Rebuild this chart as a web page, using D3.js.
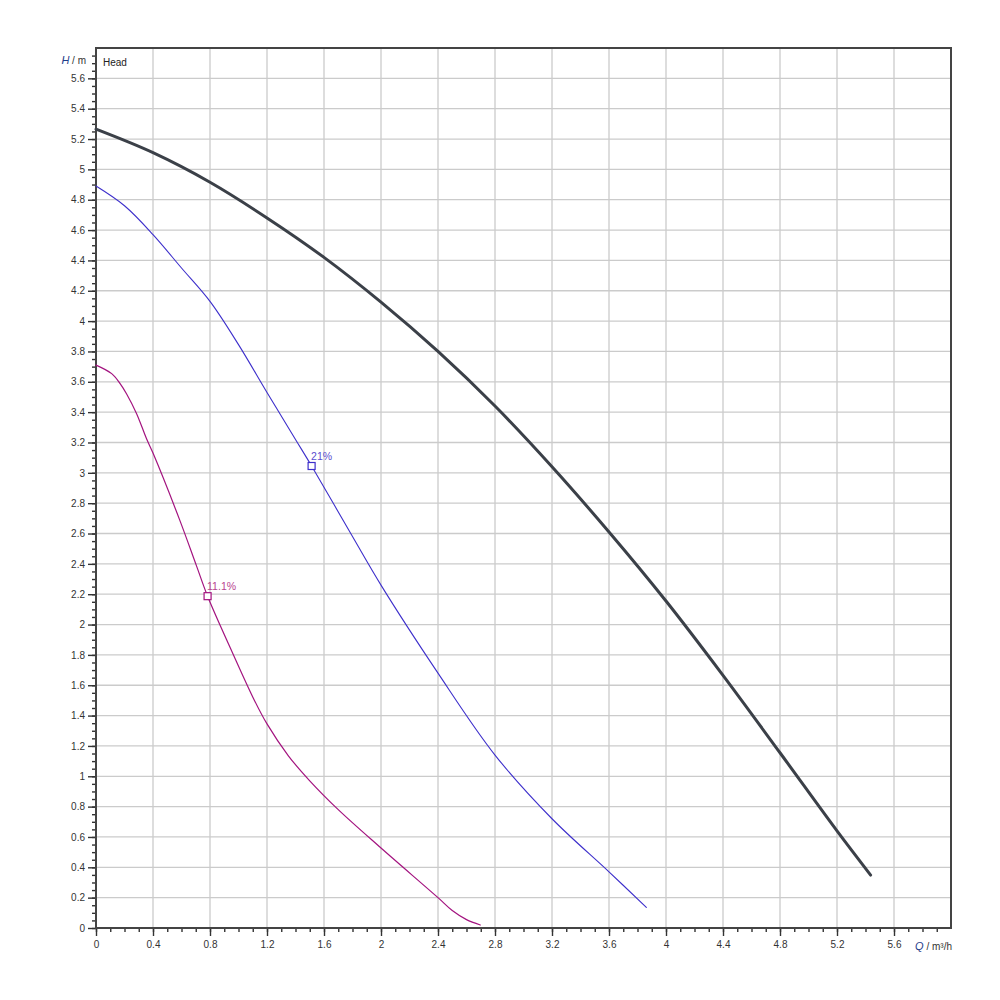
<!DOCTYPE html>
<html>
<head>
<meta charset="utf-8">
<script src="https://cdn.jsdelivr.net/npm/d3@7"></script>
<style>
  body { margin: 0; background: #fff; }
  svg text { font-family: "Liberation Sans", Arial, sans-serif; }
</style>
</head>
<body>
<svg id="chart" width="1000" height="1000"></svg>
<script>
// curve data (Q in m³/h, H in m)
const maxQ = [0, 0.4, 0.8, 1.2, 1.6, 2.0, 2.4, 2.8, 3.2, 3.6, 4.0, 4.4, 4.8, 5.2, 5.436];
const maxH = [5.265, 5.11, 4.915, 4.68, 4.42, 4.125, 3.80, 3.44, 3.04, 2.61, 2.155, 1.665, 1.155, 0.64, 0.349];

const midQ = [0, 0.2, 0.4, 0.6, 0.8, 1.0, 1.2, 1.4, 1.513, 1.8, 2.0, 2.4, 2.8, 3.2, 3.6, 3.862];
const midH = [4.89, 4.76, 4.57, 4.35, 4.13, 3.845, 3.53, 3.22, 3.045, 2.58, 2.26, 1.68, 1.14, 0.72, 0.37, 0.136];

const lowQ = [0, 0.11, 0.168, 0.215, 0.285, 0.354, 0.4, 0.587, 0.704, 0.783, 0.96, 1.112, 1.2, 1.35, 1.5, 1.7, 2.0, 2.4, 2.5, 2.6, 2.697];
const lowH = [3.71, 3.654, 3.59, 3.52, 3.39, 3.226, 3.13, 2.69, 2.39, 2.187, 1.81, 1.50, 1.345, 1.135, 0.97, 0.78, 0.527, 0.20, 0.115, 0.055, 0.02];

// marked operating points
const markQ = [1.513, 0.783];
const markH = [3.045, 2.187];
const markLabels = ['21%', '11.1%'];

// axis ticks
const xTicks = [0, 0.4, 0.8, 1.2, 1.6, 2, 2.4, 2.8, 3.2, 3.6, 4, 4.4, 4.8, 5.2, 5.6];
const xTickLabels = ['0', '0.4', '0.8', '1.2', '1.6', '2', '2.4', '2.8', '3.2', '3.6', '4', '4.4', '4.8', '5.2', '5.6'];
const yTicks = [0, 0.2, 0.4, 0.6, 0.8, 1, 1.2, 1.4, 1.6, 1.8, 2, 2.2, 2.4, 2.6, 2.8, 3, 3.2, 3.4, 3.6, 3.8, 4, 4.2, 4.4, 4.6, 4.8, 5, 5.2, 5.4, 5.6];
const yTickLabels = ['0', '0.2', '0.4', '0.6', '0.8', '1', '1.2', '1.4', '1.6', '1.8', '2', '2.2', '2.4', '2.6', '2.8', '3', '3.2', '3.4', '3.6', '3.8', '4', '4.2', '4.4', '4.6', '4.8', '5', '5.2', '5.4', '5.6'];

const plotLeft = 96, plotRight = 951, plotTop = 48, plotBottom = 928;

const svg = d3.select('#chart');
const x = d3.scaleLinear().domain([0, 6]).range([plotLeft, plotRight]);
const y = d3.scaleLinear().domain([0, 5.8]).range([plotBottom, plotTop]);

// minor ticks: every 0.1 on Q, every 0.05 on H
const xMinor = d3.range(0, 60).map(i => i / 10);
const yMinor = d3.range(0, 116).map(i => i / 20);

// Grid
{
  let g = svg.append('g');
  g.selectAll('line.v').data(xTicks.slice(1)).enter().append('line')
    .attr('x1', d => x(d)).attr('x2', d => x(d))
    .attr('y1', plotTop).attr('y2', plotBottom)
    .style('stroke', '#cbcbcb').style('stroke-width', 1.3);
  g.selectAll('line.h').data(yTicks.slice(1)).enter().append('line')
    .attr('x1', plotLeft).attr('x2', plotRight)
    .attr('y1', d => y(d)).attr('y2', d => y(d))
    .style('stroke', '#cbcbcb').style('stroke-width', 1.3);
}

// Axes
{
  svg.append('g')
    .attr('transform', `translate(0 ${plotBottom})`)
    .call(d3.axisBottom(x).tickValues(xMinor).tickSize(4).tickFormat(''))
    .call(g => g.select('.domain').remove());
  svg.append('g')
    .attr('transform', `translate(${plotLeft} 0)`)
    .call(d3.axisLeft(y).tickValues(yMinor).tickSize(4).tickFormat(''))
    .call(g => g.select('.domain').remove());

  let xa = svg.append('g')
    .attr('transform', `translate(0 ${plotBottom})`)
    .call(d3.axisBottom(x).tickValues(xTicks).tickSize(8).tickPadding(5)
      .tickFormat((d, i) => xTickLabels[i]));
  xa.select('.domain').remove();

  let ya = svg.append('g')
    .attr('transform', `translate(${plotLeft} 0)`)
    .call(d3.axisLeft(y).tickValues(yTicks).tickSize(8).tickPadding(3)
      .tickFormat((d, i) => yTickLabels[i]));
  ya.select('.domain').remove();

  svg.selectAll('.tick line').style('stroke', '#333').style('stroke-width', 1.4);
  svg.selectAll('.tick text').style('fill', '#333').style('font-size', '10px');
}

// Frame
svg.append('rect')
  .attr('x', plotLeft).attr('y', plotTop)
  .attr('width', plotRight - plotLeft).attr('height', plotBottom - plotTop)
  .style('fill', 'none').style('stroke', '#444').style('stroke-width', 2);

// Axis titles
{
  let t = svg.append('text')
    .attr('x', 86).attr('y', 64)
    .attr('text-anchor', 'end')
    .style('font-size', '10px').style('fill', '#333');
  t.append('tspan').text('H').style('font-style', 'italic').style('fill', '#1f3d8a').style('font-size', '11px');
  t.append('tspan').text(' / m');

  let q = svg.append('text')
    .attr('x', 952).attr('y', 950)
    .attr('text-anchor', 'end')
    .style('font-size', '10px').style('fill', '#333');
  q.append('tspan').text('Q').style('font-style', 'italic').style('fill', '#1f3d8a').style('font-size', '11px');
  q.append('tspan').text(' / m³/h');

  svg.append('text')
    .attr('x', 103).attr('y', 66)
    .style('font-size', '10px').style('fill', '#222')
    .text('Head');
}

// Curves
{
  const line = d3.line()
    .x(d => x(d[0]))
    .y(d => y(d[1]))
    .curve(d3.curveCatmullRom.alpha(0.5));

  const curves = [
    { q: lowQ, h: lowH, color: '#a3137f', width: 1.2 },
    { q: midQ, h: midH, color: '#3d2fcb', width: 1.1 },
    { q: maxQ, h: maxH, color: '#3b4048', width: 3 }
  ];

  svg.append('g').selectAll('path').data(curves).enter().append('path')
    .attr('d', c => line(c.q.map((v, i) => [v, c.h[i]])))
    .style('fill', 'none')
    .style('stroke', c => c.color)
    .style('stroke-width', c => c.width)
    .style('stroke-linejoin', 'round')
    .style('stroke-linecap', 'round');
}

// Markers with labels
{
  const markColors = ['#3d2fcb', '#a3137f'];
  const labelColors = ['#5a4ed0', '#b8448f'];
  let g = svg.append('g');
  g.selectAll('rect').data(markQ).enter().append('rect')
    .attr('x', (d, i) => x(d) - 3.5)
    .attr('y', (d, i) => y(markH[i]) - 3.5)
    .attr('width', 7).attr('height', 7)
    .style('fill', '#fff')
    .style('stroke', (d, i) => markColors[i])
    .style('stroke-width', 1.2);
  g.selectAll('text').data(markQ).enter().append('text')
    .attr('x', (d, i) => x(d) - 0.5)
    .attr('y', (d, i) => y(markH[i]) - 6)
    .style('font-size', '10.5px')
    .style('fill', (d, i) => labelColors[i])
    .text((d, i) => markLabels[i]);
}
</script>
</body>
</html>
